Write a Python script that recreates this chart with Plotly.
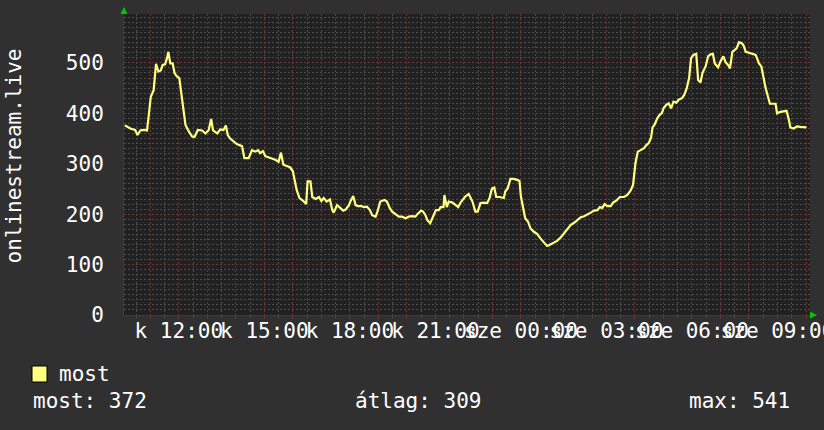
import plotly.graph_objects as go
import pandas as pd

# ---- data ----
start_label = "2024-01-02 10:00"   # Tuesday (kedd) 10:00
minutes = [6, 9, 18, 28, 33, 39, 46, 53, 56, 61, 67, 70, 72, 77, 82, 86, 91, 95, 98, 102,
           107, 111, 116, 121, 125, 128, 134, 141, 148, 153, 160, 169, 176, 183, 188, 192, 201, 207, 214, 219,
           223, 228, 235, 242, 253, 258, 267, 274, 281, 287, 291, 297, 302, 309, 316, 323, 330, 335, 340, 347,
           354, 360, 365, 368, 374, 381, 388, 391, 397, 401, 408, 415, 420, 425, 431, 438, 443, 446, 453, 460,
           466, 471, 478, 481, 487, 492, 497, 504, 509, 516, 522, 527, 534, 538, 544, 553, 558, 564, 569, 576,
           583, 590, 597, 604, 611, 618, 622, 630, 634, 639, 643, 649, 656, 661, 667, 671, 677, 679, 684, 688,
           696, 702, 708, 713, 719, 722, 727, 730, 738, 744, 749, 755, 762, 769, 774, 779, 784, 788, 795, 804,
           807, 812, 818, 825, 832, 837, 840, 845, 849, 855, 860, 867, 874, 881, 888, 895, 902, 909, 916, 924,
           931, 938, 945, 952, 959, 966, 973, 980, 987, 994, 1001, 1006, 1011, 1016, 1022, 1029, 1034, 1041, 1048, 1057,
           1064, 1071, 1076, 1081, 1086, 1092, 1099, 1104, 1109, 1114, 1117, 1121, 1127, 1132, 1137, 1140, 1146, 1151, 1156, 1161,
           1167, 1172, 1179, 1184, 1189, 1194, 1198, 1203, 1209, 1213, 1218, 1222, 1229, 1234, 1239, 1244, 1248, 1255, 1260, 1266,
           1271, 1276, 1280, 1285, 1290, 1294, 1299, 1305, 1309, 1313, 1320, 1327, 1334, 1337, 1341, 1346, 1350, 1355, 1360, 1364,
           1376, 1379, 1386, 1399, 1404, 1407, 1414, 1421, 1428, 1435, 1441]
values = [376, 375, 370, 367, 357, 366, 367, 366, 390, 433, 446, 480, 498, 483, 485, 496, 497, 509, 522, 499,
          499, 480, 473, 470, 440, 413, 377, 364, 354, 353, 367, 366, 360, 367, 389, 366, 360, 368, 367, 376,
          357, 350, 344, 339, 335, 311, 311, 327, 324, 327, 321, 325, 315, 313, 311, 308, 304, 322, 298, 296,
          293, 285, 265, 248, 232, 227, 220, 265, 265, 234, 230, 234, 226, 232, 225, 229, 208, 203, 218, 212,
          207, 209, 218, 225, 236, 218, 216, 216, 214, 215, 208, 198, 195, 205, 225, 228, 225, 212, 205, 200,
          195, 195, 192, 195, 196, 195, 200, 207, 205, 198, 188, 182, 198, 208, 208, 214, 214, 238, 214, 225,
          223, 218, 214, 223, 232, 234, 238, 240, 225, 205, 205, 222, 223, 222, 232, 251, 253, 234, 234, 232,
          245, 251, 270, 270, 268, 266, 235, 208, 192, 185, 172, 165, 161, 152, 145, 137, 140, 143, 147, 154,
          162, 172, 179, 183, 188, 194, 196, 199, 203, 207, 208, 214, 212, 220, 216, 216, 223, 227, 234, 234,
          238, 247, 258, 301, 324, 327, 331, 337, 341, 352, 372, 377, 390, 397, 401, 410, 417, 420, 410, 423,
          421, 427, 430, 437, 450, 470, 509, 516, 518, 466, 461, 480, 494, 513, 517, 518, 499, 491, 503, 513,
          501, 496, 489, 522, 526, 529, 541, 539, 534, 522, 520, 518, 516, 509, 499, 493, 473, 450, 433, 419,
          419, 400, 403, 405, 387, 372, 370, 374, 373, 372, 372]

tick_times = ["2024-01-02 12:00", "2024-01-02 15:00", "2024-01-02 18:00", "2024-01-02 21:00",
              "2024-01-03 00:00", "2024-01-03 03:00", "2024-01-03 06:00", "2024-01-03 09:00"]
tick_labels = ["k 12:00", "k 15:00", "k 18:00", "k 21:00",
               "sze 00:00", "sze 03:00", "sze 06:00", "sze 09:00"]

series_name = "most"
y_title = "onlinestream.live"
stat_names = ["most", "átlag", "max"]
stat_values = [372, 309, 541]

# ---- styling ----
FONT = "DejaVu Sans Mono"
FS = 21
BG = "#303030"
CANVAS = "#212121"
MAJOR = "#6e3535"
MINOR = "#4c4c4c"
LINE = "#ffff80"
ARROW = "#00c800"

base = pd.Timestamp(start_label)
times = base + pd.to_timedelta(minutes, unit="min")
x_start = base + pd.Timedelta(minutes=4.6)
x_end = base + pd.Timedelta(minutes=1448.4)

hours = pd.date_range(base + pd.Timedelta(hours=1), base + pd.Timedelta(hours=24), freq="h")
label_map = {pd.Timestamp(t): l for t, l in zip(tick_times, tick_labels)}
hour_text = [label_map.get(h, "") for h in hours]

fig = go.Figure()
fig.add_trace(go.Scatter(x=times, y=values, mode="lines", name=series_name,
                         line=dict(color=LINE, width=2.2), showlegend=False, hoverinfo="skip"))

fig.update_layout(
    width=824, height=430,
    margin=dict(l=124, r=14, t=14, b=115, autoexpand=False),
    paper_bgcolor=BG, plot_bgcolor=CANVAS,
    font=dict(family=FONT, size=FS, color="#ffffff"),
    xaxis=dict(
        type="date", range=[x_start, x_end], automargin=False,
        tickmode="array", tickvals=hours, ticktext=hour_text,
        tickangle=0, ticklabeloverflow="allow",
        showgrid=True, gridcolor=MAJOR, griddash="2px,2px", gridwidth=1,
        ticks="outside", ticklen=3, tickcolor=MAJOR, tickwidth=1,
        minor=dict(tickmode="linear", tick0=base, dtick=1800000, showgrid=True,
                   gridcolor=MINOR, griddash="2px,2px", ticks="outside", ticklen=2, tickcolor=MINOR),
        tickfont=dict(family=FONT, size=FS, color="#ffffff"),
        zeroline=False, showline=True, linecolor="#3c3c3c", linewidth=1,
        ticklabelstandoff=-6,
    ),
    yaxis=dict(
        range=[0, 597], tickmode="linear", tick0=0, dtick=100, automargin=False,
        showgrid=True, gridcolor=MAJOR, griddash="2px,2px", gridwidth=1,
        minor=dict(tickmode="linear", tick0=0, dtick=10, showgrid=True,
                   gridcolor=MINOR, griddash="2px,2px"),
        ticks="", tickfont=dict(family=FONT, size=FS, color="#ffffff"),
        zeroline=False, showline=True, linecolor="#3c3c3c", linewidth=1,
        ticklabelstandoff=15,
    ),
)

def px(xp):
    return (xp - 124) / 686.0

def py(yp):
    return (315 - yp) / 301.0

ann = []
ann.append(dict(text=y_title, textangle=-90, xref="paper", yref="paper",
                x=px(13), y=py(156.5), xanchor="center", yanchor="middle",
                showarrow=False, font=dict(family=FONT, size=FS, color="#ffffff")))
ann.append(dict(text=series_name, xref="paper", yref="paper", x=px(57), y=py(374),
                xanchor="left", yanchor="middle", showarrow=False,
                font=dict(family=FONT, size=FS, color="#ffffff")))
stat_x = [31, 353, 687]
for name, val, sx in zip(stat_names, stat_values, stat_x):
    ann.append(dict(text=f"{name}: {val}", xref="paper", yref="paper", x=px(sx), y=py(401),
                    xanchor="left", yanchor="middle", showarrow=False,
                    font=dict(family=FONT, size=FS, color="#ffffff")))
fig.update_layout(annotations=ann)

shapes = []
shapes.append(dict(type="rect", xref="paper", yref="paper",
                   x0=px(32), x1=px(47), y0=py(382), y1=py(366),
                   fillcolor=LINE, line=dict(color="#000000", width=1), layer="above"))
shapes.append(dict(type="path", xref="paper", yref="paper",
                   path=f"M {px(120.5)},{py(14)} L {px(127.5)},{py(14)} L {px(124)},{py(7)} Z",
                   fillcolor=ARROW, line=dict(color=ARROW, width=0), layer="above"))
shapes.append(dict(type="path", xref="paper", yref="paper",
                   path=f"M {px(810)},{py(311.5)} L {px(810)},{py(318.5)} L {px(817)},{py(315)} Z",
                   fillcolor=ARROW, line=dict(color=ARROW, width=0), layer="above"))
fig.update_layout(shapes=shapes)

fig.write_html("out.html", config={"displayModeBar": False},
               post_script="document.body.style.margin='0px';document.body.style.background='#303030';")
